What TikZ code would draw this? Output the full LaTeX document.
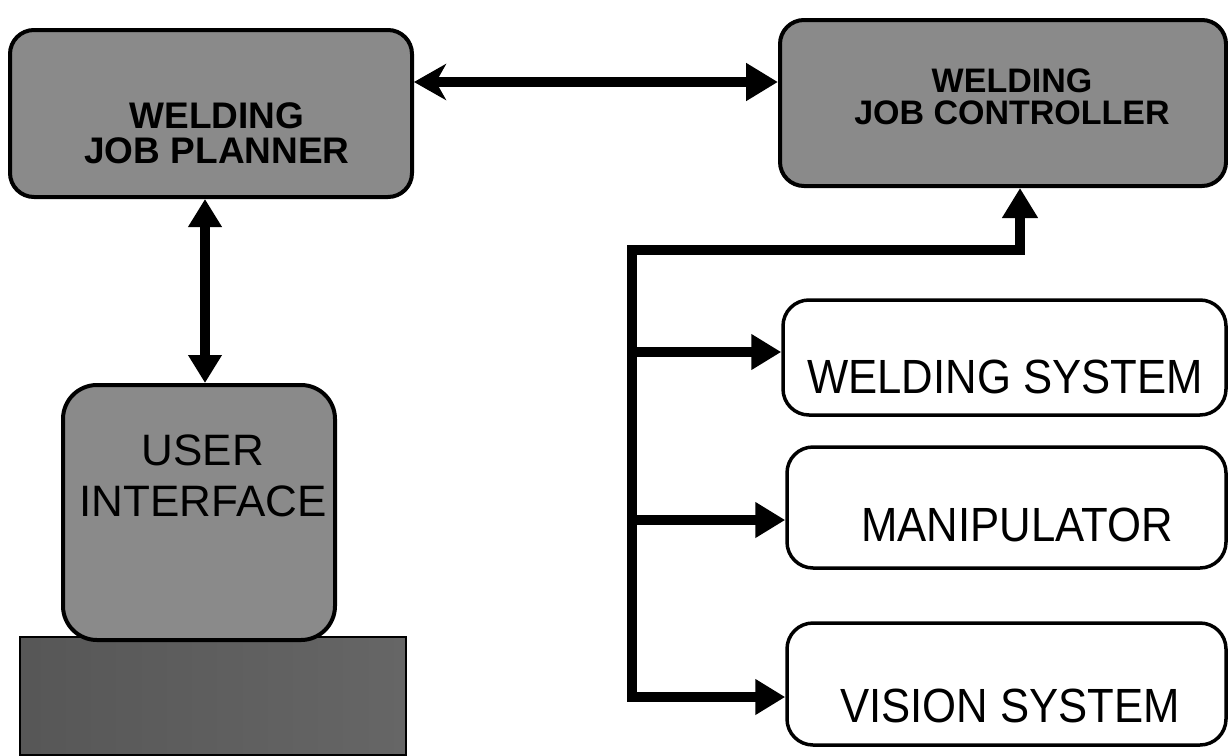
\documentclass[tikz,border=0pt]{standalone}
\usepackage{fontspec}
\setmainfont{Liberation Sans}
\usetikzlibrary{arrows.meta}
\begin{document}
\begin{tikzpicture}[x=1pt,y=-1pt,
  graybox/.style={draw=black,line width=4pt,fill=black!46,rounded corners=24pt,inner sep=0pt},
  whitebox/.style={draw=black,line width=3.5pt,fill=white,rounded corners=26pt,inner sep=0pt},
  boldlbl/.style={font=\fontsize{37}{35}\selectfont\bfseries,align=center,inner sep=0pt},
  plainlbl/.style={font=\fontsize{48}{50}\selectfont,inner sep=0pt},
  link/.style={line width=10pt},
  tip/.style={-{Triangle[length=30pt,width=34pt]}},
  bothtips/.style={{Triangle[length=30pt,width=34pt]}-{Triangle[length=30pt,width=34pt]}},
]
\useasboundingbox (0,0) rectangle (1228,755);

% planner and controller
\node[graybox,minimum width=402pt,minimum height=167pt] (planner) at (211,113.5) {};
\node[boldlbl] (plannertxt) at (217,133) {WELDING\\JOB PLANNER};
\node[graybox,minimum width=446pt,minimum height=166pt] (ctrl) at (1003,103) {};
\node[boldlbl,font=\fontsize{34}{32}\selectfont\bfseries] (ctrltxt) at (1012,97) {WELDING\\JOB CONTROLLER};

% user interface on its base
\node[draw=black,line width=2.5pt,minimum width=386pt,minimum height=118pt,inner sep=0pt,
      left color=black!66,middle color=black!30,right color=black!60] (base) at (213,696) {};
\node[graybox,rounded corners=34pt,minimum width=272pt,minimum height=255pt] (ui) at (199,512.5) {};
\node[font=\fontsize{44}{51}\selectfont,align=center,inner sep=0pt] (uitxt) at (203,476) {USER\\INTERFACE};

% subsystems
\node[whitebox,minimum width=443pt,minimum height=115pt] (weld) at (1004.5,357.5) {};
\node[plainlbl] (weldtxt) at (1005,377) {\scalebox{0.91}[1]{WELDING SYSTEM}};
\node[whitebox,minimum width=439pt,minimum height=121pt] (manip) at (1006.5,507.5) {};
\node[plainlbl] (maniptxt) at (1017,525) {\scalebox{0.91}[1]{MANIPULATOR}};
\node[whitebox,minimum width=439pt,minimum height=122pt] (vis) at (1006.5,684) {};
\node[plainlbl] (vistxt) at (1010,706) {\scalebox{0.91}[1]{VISION SYSTEM}};

% planner <-> controller
\draw[link,{Stealth[length=32pt,width=36pt,inset=10pt]}-{Triangle[length=32pt,width=36pt]}]
  (planner.east |- 0,82) -- (ctrl.west |- 0,82);
% planner <-> user interface
\draw[link,{Triangle[length=28pt,width=32pt]}-{Triangle[length=28pt,width=32pt]}]
  (planner.south -| 205,0) -- (ui.north -| 205,0);

% controller bus
\coordinate (bt) at (632,250);
\draw[link,bothtips] (vis.west |- 0,697) -| (bt) -| (ctrl.south -| 1020,0);
\draw[link,tip] (632,352) -- (weld.west |- 0,352);
\draw[link,tip] (632,520) -- (manip.west |- 0,520);
\end{tikzpicture}
\end{document}
